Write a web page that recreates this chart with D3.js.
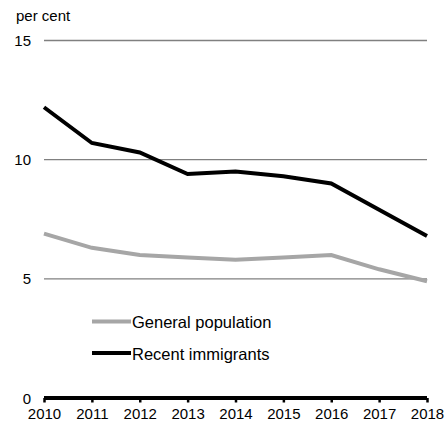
<!DOCTYPE html>
<html lang="en">
<head>
    <meta charset="UTF-8">
    <title>Unemployment</title>
    <script src="https://cdn.jsdelivr.net/npm/d3@7"></script>
    <style>
        body { margin: 0; background: #fff; }
        svg { display: block; font-family: "Liberation Sans", Arial, sans-serif; }
    </style>
</head>
<body>
    <script>
        'use strict';
        var years = [2010, 2011, 2012, 2013, 2014, 2015, 2016, 2017, 2018];
        var generalPop = [6.9, 6.3, 6.0, 5.9, 5.8, 5.9, 6.0, 5.4, 4.9];
        var recentImm = [12.2, 10.7, 10.3, 9.4, 9.5, 9.3, 9.0, 7.9, 6.8];
        var yTicks = [0, 5, 10, 15];

        var w = 448, h = 422;
        var svg = d3.select('body').append('svg')
            .attr('width', w)
            .attr('height', h);

        var x = d3.scaleLinear().domain([2010, 2018]).range([44, 427]);
        var y = d3.scaleLinear().domain([0, 15]).range([398, 40.5]);

        // gridlines
        svg.selectAll('line.grid')
            .data(yTicks.filter(d => d > 0))
            .enter().append('line')
            .attr('class', 'grid')
            .attr('x1', x(2010)).attr('x2', x(2018))
            .attr('y1', d => y(d)).attr('y2', d => y(d))
            .attr('stroke', '#808080')
            .attr('stroke-width', 1.3);

        // y labels
        svg.selectAll('text.ylab')
            .data(yTicks)
            .enter().append('text')
            .attr('x', 31)
            .attr('y', d => y(d) + 5.5)
            .attr('text-anchor', 'end')
            .attr('font-size', 15)
            .text(d => d);

        svg.append('text')
            .attr('x', 16).attr('y', 21)
            .attr('font-size', 15)
            .text('per cent');

        var line = d3.line()
            .x((d, i) => x(years[i]))
            .y(d => y(d));

        svg.append('path')
            .datum(generalPop)
            .attr('d', line)
            .attr('fill', 'none')
            .attr('stroke', '#a6a6a6')
            .attr('stroke-width', 4);

        svg.append('path')
            .datum(recentImm)
            .attr('d', line)
            .attr('fill', 'none')
            .attr('stroke', '#000')
            .attr('stroke-width', 4);

        // x axis
        var xAxis = d3.axisBottom(x)
            .tickValues(years)
            .tickFormat(d3.format('d'))
            .tickSize(4.5)
            .tickPadding(5.5);
        var gx = svg.append('g')
            .attr('transform', 'translate(0,' + y(0) + ')')
            .call(xAxis);
        gx.select('.domain')
            .attr('d', 'M' + x(2010) + ',0H' + x(2018))
            .attr('stroke', '#000')
            .attr('stroke-width', 4);
        gx.selectAll('.tick line').attr('stroke', '#000').attr('stroke-width', 2.5);
        gx.selectAll('.tick text')
            .attr('font-size', 15)
            .attr('font-family', '"Liberation Sans", Arial, sans-serif')
            .attr('fill', '#000');

        // legend
        var legend = [
            { name: 'General population', color: '#a6a6a6' },
            { name: 'Recent immigrants', color: '#000' }
        ];
        var lg = svg.selectAll('g.legend')
            .data(legend)
            .enter().append('g')
            .attr('transform', (d, i) => 'translate(92,' + (321.5 + i * 31.5) + ')');
        lg.append('line')
            .attr('x1', 0).attr('x2', 39)
            .attr('stroke', d => d.color)
            .attr('stroke-width', 4);
        lg.append('text')
            .attr('x', 40).attr('y', 6.5)
            .attr('font-size', 16.5)
            .text(d => d.name);
    </script>
</body>
</html>
